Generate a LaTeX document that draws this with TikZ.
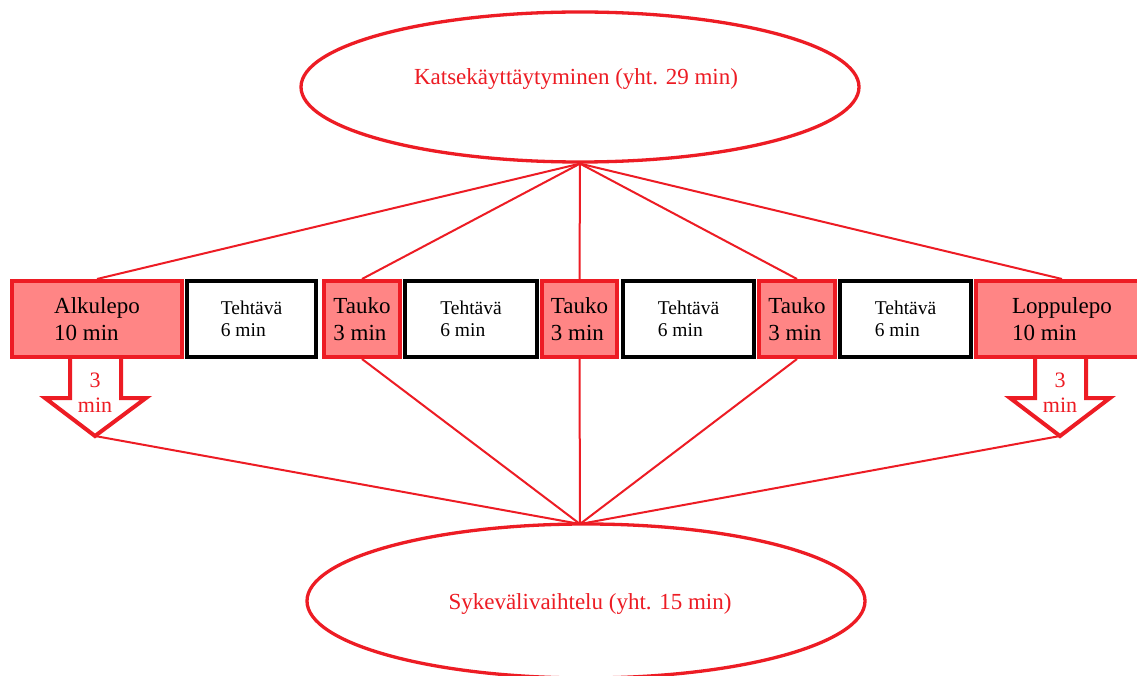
\documentclass[tikz,border=0pt]{standalone}
\usepackage{fontspec}
\setmainfont{Liberation Serif}
\usetikzlibrary{shapes.geometric}
\definecolor{pred}{RGB}{237,28,36}
\definecolor{pfill}{RGB}{255,133,133}
\begin{document}
\begin{tikzpicture}[x=1pt,y=-1pt,
  restbox/.style={draw=pred, fill=pfill, line width=4pt, minimum height=76pt, inner sep=0pt, align=left, font={\fontsize{23}{27}\selectfont}},
  taskbox/.style={draw=black, fill=white, line width=4pt, minimum height=76pt, inner sep=0pt, align=left, font={\fontsize{19.5}{22}\selectfont}},
  conn/.style={draw=pred, line width=2pt},
  oval/.style={ellipse, draw=pred, line width=3.3pt, inner sep=0pt},
  ovaltext/.style={text=pred, font={\fontsize{23}{27}\selectfont}, anchor=base, inner sep=0pt},
  blockarrow/.style={draw=pred, fill=white, line width=4pt, miter limit=10},
  arrowtext/.style={text=pred, align=center, font={\fontsize{22}{25}\selectfont}, inner sep=0pt}]
\clip (0,0) rectangle (1137,676);
\fill[white] (0,0) rectangle (1137,676);

% ellipses
\node[oval, minimum width=558pt, minimum height=150pt] (top) at (580,87) {};
\node[ovaltext] (toptext) at (576,85) {Katsekäyttäytyminen (yht. 29 min)};
\node[oval, minimum width=558pt, minimum height=154pt] (bot) at (586,601) {};
\node[ovaltext] (bottext) at (590,609) {Sykevälivaihtelu (yht. 15 min)};
\coordinate (hubB) at (580,524);

% boxes
\node[restbox, minimum width=170pt] (A) at (97,319) {Alkulepo\\10 min};
\node[taskbox, minimum width=129pt] (T1) at (251.5,319) {Tehtävä\\6 min};
\node[restbox, minimum width=76pt] (P1) at (362,319) {Tauko\\3 min};
\node[taskbox, minimum width=132pt] (T2) at (471,319) {Tehtävä\\6 min};
\node[restbox, minimum width=75pt] (P2) at (579.5,319) {Tauko\\3 min};
\node[taskbox, minimum width=131pt] (T3) at (688.5,319) {Tehtävä\\6 min};
\node[restbox, minimum width=76pt] (P3) at (797,319) {Tauko\\3 min};
\node[taskbox, minimum width=131pt] (T4) at (905.5,319) {Tehtävä\\6 min};
\node[restbox, minimum width=172pt] (L) at (1062,319) {Loppulepo\\10 min};

% block arrows
\coordinate (tipA) at (95,436);
\coordinate (tipL) at (1060,436);
\draw[blockarrow] (70,359) -- (70,398) -- (45,398) -- (tipA) -- (146,398) -- (121,398) -- (121,359);
\draw[blockarrow] (1035,359) -- (1035,398) -- (1010,398) -- (tipL) -- (1110,398) -- (1086,398) -- (1086,359);
\node[arrowtext] (atA) at (95,393) {3\\min};
\node[arrowtext] (atL) at (1060,393) {3\\min};

% connectors from top ellipse
\draw[conn] (top.south) -- (A.north);
\draw[conn] (top.south) -- (P1.north);
\draw[conn] (top.south) -- (P2.north);
\draw[conn] (top.south) -- (P3.north);
\draw[conn] (top.south) -- (L.north);

% connectors to bottom ellipse
\draw[conn] (hubB) -- (tipA);
\draw[conn] (hubB) -- (P1.south);
\draw[conn] (hubB) -- (P2.south);
\draw[conn] (hubB) -- (P3.south);
\draw[conn] (hubB) -- (tipL);
\end{tikzpicture}
\end{document}
